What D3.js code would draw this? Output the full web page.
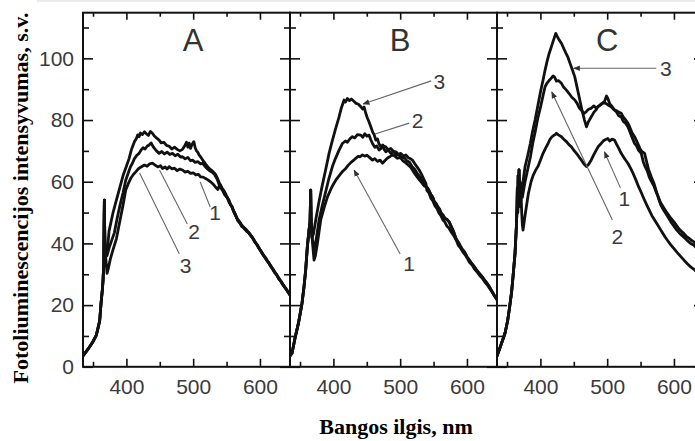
<!DOCTYPE html>
<html><head><meta charset="utf-8">
<script src="https://cdn.jsdelivr.net/npm/d3@7"></script>
<style>body{margin:0;background:#fff;} svg{display:block;}</style>
</head><body>
<svg id="chart" width="695" height="441"></svg>
<script>
// ---------- data ----------
const panelNames = ["A", "B", "C"];
const wavelengthDomain = [335, 645];
const intensityDomain = [0, 114.8];
const xMajorTicks = [400, 500, 600];
const xMinorTicks = [350, 450, 550];
const yMajorTicks = [0, 20, 40, 60, 80, 100];
const yMinorTicks = [10, 30, 50, 70, 90, 110];
const xTitle = "Bangos ilgis, nm";
const yTitle = "Fotoliuminescencijos intensyvumas, s.v.";

// Panel A
const startA = [[335,3.5],[340,5],[345,6.5],[350,8.2],[355,10.3],[358,13],[360,15],[362,20.6],[364,25],[365,28],[366,33],[366.5,45],[367,54],[367.5,44],[368,38]];
const bodyA3 = [[370,37],[372,39],[374,44],[377,47],[380,50],[385,54],[390,58],[395,62],[400,65],[404,67.5],[407,70],[409,71.3],[412,73],[415,74],[417,75.2],[419,74.6],[421,75.8],[424,75.3],[427,76.2],[430,75.5],[433,75],[436,76.3],[439,75.7],[442,74.8],[445,74.2],[449,73.5],[452,72.6],[456,72.8],[460,71.8],[464,71.5],[468,70.6],[472,71.2],[476,70.5],[480,70],[484,70.5],[487,71.5],[490,72.8],[492,71.2],[494,72.5],[496,70.8],[498,72],[501,73],[503,71],[505,70],[507,69.5],[509,68.6],[512,67.8],[516,66.5],[519,65.6],[523,64.5],[527,63.8],[530,63.2],[533,62.5],[536,61.3]];
const bodyA2 = [[371,36],[374,38.5],[378,41],[382,43.5],[386,48],[390,52],[395,56.5],[399,60.5],[403,63],[406,64.8],[409,66],[412,67.5],[415,68.4],[419,69.2],[422,70.3],[425,71],[428,70.6],[431,71.5],[434,71.9],[437,72.6],[440,71.4],[442,70.8],[445,70],[449,69.2],[453,69.8],[457,69],[461,69.6],[465,68.8],[469,69.2],[473,68.4],[477,68.9],[481,68],[484,68.1],[488,67.4],[492,67.9],[496,66.8],[499,67],[503,66.3],[507,66.5],[511,65.8],[514,66],[518,64.9],[521,64.2],[525,63.5],[528,63.2],[532,62.3],[536,60.8]];
const bodyA1 = [[370,33],[371,30.3],[373,32],[376,35],[380,38],[385,41.5],[390,47],[395,52.5],[399,57.3],[403,59.5],[407,61.3],[411,62.5],[414,63.2],[418,64.2],[422,64.8],[427,65.4],[431,65],[435,65.8],[439,66],[443,65.4],[447,64.8],[451,65.2],[454,64.3],[458,64.8],[461,64.1],[464,64.9],[468,64.2],[472,64.4],[476,63.6],[480,64.1],[484,63.8],[488,63.1],[492,63.4],[496,62.7],[500,62.9],[504,62.2],[508,62.4],[511,61.6],[515,61.5],[518,61.1],[522,60.6],[526,60],[530,59.2],[533,58.4],[537,57.5]];
const tailA = [[540,59.2],[543,58],[546,57],[550,55.3],[553,54.2],[556,52.5],[558,52],[561,50.2],[564,48.8],[567,47.4],[570,46.6],[573,45.5],[576,45],[580,44],[583,43.5],[586,42.6],[589,41.8],[592,40.6],[595,39.8],[598,38.6],[601,37.6],[604,36.5],[607,35.6],[610,34.6],[613,33.8],[616,32.6],[619,31.7],[622,30.6],[625,29.8],[628,28.6],[631,27.8],[634,26.7],[637,25.8],[640,24.9],[643,23.9],[645,23.2]];
const tailA2 = [[540,58.4],[544,57.2],[547,55.8],[551,54.8],[554,53.2],[557,52.3],[560,50.8],[563,49.6],[566,48],[569,47.2],[572,46.2],[575,45.4],[579,44.6],[582,43.8],[585,43],[588,42.1],[591,41.2],[594,40],[597,39.2],[600,38],[603,37.1],[606,36],[609,35.2],[612,34],[615,33.2],[618,32.2],[621,31.2],[624,30.2],[627,29.2],[630,28.2],[633,27.3],[636,26.2],[639,25.4],[642,24.3],[645,23.6]];

// Panel B
const startB = [[335,3.5],[338,4.4],[343,9.8],[348,14.5],[353,20.6],[356,26],[358.5,31.4],[361,39],[363.5,44.3],[365,47],[365.5,52],[366,57.3],[366.5,50],[367,45],[368,42]];
const bodyB3 = [[370,43],[373.5,47.6],[378,53],[383,58.5],[388,63.5],[393.5,69.2],[398,73],[403,77],[408.5,81],[412,84],[416,86.5],[418,85.8],[421,87],[424,86.3],[427,86.8],[431,86],[434,85.4],[437,85.2],[441,84.3],[444,83.6],[446,84.2],[448.5,82.2],[451,80.6],[453,79.6],[456,77.8],[459,76],[461,75.3],[463.5,73.5],[466,73.9],[468,72.4],[471,71.3],[474,71.9],[476,70.5],[478.5,69.7],[482,70.3],[486,69.2],[490,69.8],[494,68.6],[498,68.8],[502,67.7],[506,67.9],[510,66.8],[514,66.3],[518,64.9],[522,64],[526,62.5],[530,61.5],[534,60.2],[537,59]];
const bodyB2 = [[371,38],[374,41],[378.5,47.6],[383,52],[388,56.4],[393,60.8],[398.5,64.9],[403,67.5],[408,70],[413.5,72.4],[418,73.2],[421,72.8],[425,74],[428.5,74.6],[432,74.2],[436,75.3],[441,75.1],[444,74.4],[447,75.6],[450,74.8],[453.5,75.1],[456,73.6],[458.5,72.4],[462,71.2],[465,71.6],[468.5,70.3],[472,70.9],[475,71.6],[478.5,71.3],[482,70.4],[486,70.8],[490,69.8],[493.5,69.7],[497,68.9],[501,69.2],[505,68.3],[508.5,68.7],[512,67.8],[515,67.5],[518.5,67],[522,65.8],[525,64.9],[528.5,63.8],[532,62.4],[535,61],[538.5,59.5]];
const bodyB1 = [[370,37],[371,34.6],[373,36],[376,40],[381,47.6],[386,51.5],[391,55],[396,57.5],[400,59.2],[403.5,60.5],[407,61.5],[411,62.6],[414,63.4],[418.5,64.3],[422,65.3],[426,66.2],[430,66.9],[433.5,67.6],[437,68.2],[440,68.1],[443.5,68.7],[447,68.3],[450,68.6],[454,67.9],[458.5,67],[462,67.5],[466,66.6],[470,67],[473.5,66],[477,66.8],[481,67.7],[485,68.2],[488.5,68.7],[492,68.3],[496,67.6],[500,67.9],[504,66.8],[508,66.2],[512,65.4],[516,64.6],[520,63.2],[524,62],[528,60.8],[532,59.8],[536,58.6]];
const tailB = [[540,58.2],[543,57.2],[546,55.8],[548.5,55.1],[551,53.6],[554,52.8],[556,51.9],[558.5,51.3],[561,50],[564,49.2],[567,48.1],[570,47.8],[573.5,46.9],[577,45.2],[580,43.8],[583.5,41.6],[587,40.4],[590,39.2],[593,38.1],[596,37.3],[600,35.7],[603.5,34.6],[607,33.5],[610,32.7],[614,31.5],[618.5,30.3],[622,29.4],[626,28.2],[630,27.1],[633.5,26],[637,24.6],[641,23.1],[645,21.7]];
const tailB2 = [[540,57.2],[543,56.4],[546,54.6],[549,53.8],[552,52.2],[555,51.4],[558,49.9],[561,49],[564,47.6],[567,46.9],[570,45.6],[573,45],[576,43.8],[580,42.6],[584,41],[587,39.4],[590,38.6],[594,37.2],[597,36.4],[601,35],[604,33.8],[608,32.9],[611,31.8],[615,30.8],[619,29.6],[623,28.7],[627,27.4],[631,26.4],[635,25.1],[639,23.8],[642,22.8],[645,21.9]];

// Panel C
const startC = [[335,3.5],[340,6.5],[347,10.9],[351,15],[354,19.5],[357,24.5],[359,29.2],[362,36.8],[364,45.4],[365,52],[365.5,58],[366,50],[366.7,62],[367.3,54],[368,63.8],[368.7,55],[369.3,60],[370,52],[371,56]];
const bodyC3 = [[374,60],[377,64.9],[381,68.5],[385,72.5],[388,76],[392,80],[396,84.5],[400,89],[404,93],[407,96.2],[410,99],[413,101.5],[416.5,103.8],[419,105.5],[421,106.8],[423,108.1],[425,107.2],[428,106],[431.5,104.9],[435,103.2],[438,101.8],[441,100.5],[444,98.6],[448,96.2],[451.5,94],[455,90.5],[459,86.5],[462,83.5],[466,80],[469,77.8],[472,79.5],[476,81],[480,82.5],[483,83.2],[486,84.3],[490,84.9],[493,85.5],[496,86],[499,87.8],[501,87],[504,85.2],[507,84.5],[511,83.2],[514,82.6],[517,81.5],[521,81],[524,79.6],[527,79.1],[531,77.8],[534,76.2],[537,74.5],[541,72.4],[544,71.6],[547,70.2],[551,69.2],[554,66.5],[557,64.8],[560,63.5],[563,61.5],[566,60.2],[570,58.6],[573,56.8],[576,55.4],[580,53.2],[584,51.8],[588,50.4],[592,49.2],[596,48],[600,47],[604,45.8],[608,44.6],[612,43.8],[615,43.2],[619,42.2],[623,41.6],[627,40.9],[630,40.5],[635,39.2],[640,38],[645,37]];
const bodyC2 = [[373,55],[377,60],[381,64],[385,68],[389,73],[392,76],[396,80.5],[400,84],[404,88],[407,90.8],[410,92],[413,92.8],[416,93.5],[419,94.3],[421,94],[424,92.6],[427,92.8],[431.5,91.9],[435,90.6],[439,89.7],[443,88.6],[447,87.4],[451.5,86.5],[455,85.4],[458,84],[461.5,83.2],[464,82.4],[466,82.2],[469,82.8],[472,83.5],[476,83.8],[480,84.6],[483,84],[486,84.3],[490,85],[494,85.6],[498,85.4],[502,84.8],[506,84.3],[510,83.4],[514,83],[517,82.6],[521,82.2],[524,81],[527,80.2],[531,79],[534,77.6],[537,76],[541,74.6],[545,72.8],[549,70.8],[552,69.8],[556,69.2],[559,66.5],[562,64],[566,61.6],[570,59.5],[574,56.6],[577,54.5],[580,52.6],[584,51],[588,49.6],[592,48.2],[596,46.8],[600,45.6],[604,44.4],[608,43.4],[612,42.6],[616,41.8],[620,40.9],[625,40],[630,39.4],[635,38.2],[640,37],[645,36]];
const bodyC1 = [[372,50],[373,46],[374,44.3],[376,47.5],[378,50.5],[382,56.2],[386,60],[389,62],[393,63.8],[396.5,65],[400,67],[404,69.2],[408,71],[411.5,72.4],[414,73.6],[417,74.5],[420,75],[422,75.3],[424,75.7],[427,75.2],[431.5,74.6],[435,73.8],[439,73],[443,72],[446.5,71.3],[450,70.2],[454,69.2],[458,68],[461.5,67],[465,65.8],[469,64.9],[472,65.6],[476,67],[480,68.8],[484,70.4],[487,71.5],[491,72.4],[494,73.2],[497,73.6],[501,74],[504,73.2],[507,73.8],[511,73.5],[514,72.2],[517,71],[521,69.2],[524,68.2],[527,67.2],[531,66],[535,64.4],[539,62.6],[543,60.6],[547,58.4],[551,56.5],[555,54.5],[559,52.6],[563,50.8],[567,49],[571,47.6],[575,46.2],[579,44.8],[583,43.4],[587,42],[591,40.8],[595,39.6],[600,38.3],[605,37],[610,35.8],[615,34.6],[620,33.4],[625,32.4],[630,31.6],[635,30.6],[640,29.6],[645,28.6]];

// curve labels: [label, labelWl, labelVal, fromWl, fromVal, toWl, toVal, arrow]
const labelsA = [["1",532.9,49.9,525.5,51.8,510.6,59.9,0],["2",501.2,43.8,491.2,46.3,449.6,63.8,0],["3",488.7,33.0,479.3,36.6,419.8,62.8,0]];
const labelsB = [["3",558.5,92.4,546.5,92.7,444.5,85.2,1],["2",526,80,513.5,79,462.5,75.5,0],["1",513.5,33.6,500,36.6,431,63.8,1]];
const labelsC = [["3",587.9,96.8,573.4,96.8,449.7,96.8,1],["1",525.7,54.7,519.8,58,495.9,69.7,1],["2",515.3,42.2,507.8,47.6,417,89.1,1]];

const panels = [
  {name: panelNames[0], curves: [startA.concat(bodyA3, tailA), startA.concat(bodyA2, tailA2), startA.concat(bodyA1, tailA)], labels: labelsA},
  {name: panelNames[1], curves: [startB.concat(bodyB3, tailB), startB.concat(bodyB2, tailB2), startB.concat(bodyB1, tailB)], labels: labelsB},
  {name: panelNames[2], curves: [startC.concat(bodyC3), startC.concat(bodyC2), startC.concat(bodyC1)], labels: labelsC}
];

// ---------- layout ----------
const svg = d3.select("#chart");
const W = 695, H = 441;
const plotTop = 12.7, plotBottom = 366.8, panelW = 207;
const panelLefts = [83, 290, 497];
const x = d3.scaleLinear().domain(wavelengthDomain).range([0, panelW]);
const y = d3.scaleLinear().domain(intensityDomain).range([plotBottom, plotTop]);
const tickColor = "#3a3a3a";
const sans = "'Liberation Sans', Arial, sans-serif";
const serif = "'Liberation Serif', 'Times New Roman', serif";

svg.append("rect").attr("width", W).attr("height", H).attr("fill", "#fff");
svg.append("line").attr("x1", 37).attr("x2", W).attr("y1", 1).attr("y2", 1).attr("stroke", "#d6d6d6").attr("stroke-width", 1.2);

const defs = svg.append("defs");
defs.append("marker").attr("id", "arr").attr("viewBox", "0 0 10 10").attr("refX", 9).attr("refY", 5)
  .attr("markerWidth", 7).attr("markerHeight", 7).attr("markerUnits", "userSpaceOnUse").attr("orient", "auto")
  .append("path").attr("d", "M0,1 L10,5 L0,9 Z").attr("fill", "#333");
defs.append("clipPath").attr("id", "pclip").append("rect").attr("x", 0).attr("y", plotTop).attr("width", panelW).attr("height", plotBottom - plotTop);

const line = d3.line().x(d => x(d[0])).y(d => y(d[1]));

panels.forEach((p, i) => {
  const g = svg.append("g").attr("transform", `translate(${panelLefts[i]},0)`);
  const cg = g.append("g").attr("clip-path", "url(#pclip)");
  p.curves.forEach(c => {
    cg.append("path").datum(c).attr("d", line).attr("fill", "none").attr("stroke", "#111")
      .attr("stroke-width", 2.8).attr("stroke-linejoin", "round").attr("stroke-linecap", "round");
  });
  p.labels.forEach(l => {
    g.append("line").attr("x1", x(l[3])).attr("y1", y(l[4])).attr("x2", x(l[5])).attr("y2", y(l[6]))
      .attr("stroke", "#666").attr("stroke-width", 1.1)
      .attr("marker-end", l[7] ? "url(#arr)" : null);
    g.append("text").attr("x", x(l[1])).attr("y", y(l[2])).attr("dy", "0.36em").attr("text-anchor", "middle")
      .attr("font-family", sans).attr("font-size", 21).attr("fill", tickColor).text(l[0]);
  });
  g.append("text").attr("x", x(500)).attr("y", y(102.5)).attr("text-anchor", "middle")
    .attr("font-family", sans).attr("font-size", 31).attr("fill", "#333").text(p.name);

  const styleAxis = (sel) => {
    sel.select(".domain").remove();
    sel.selectAll(".tick line").attr("stroke", "#111").attr("stroke-width", 1.6);
    sel.selectAll(".tick text").attr("font-family", sans).attr("font-size", 21).attr("fill", tickColor);
  };
  g.append("g").attr("transform", `translate(0,${plotBottom})`)
    .call(d3.axisBottom(x).tickValues(xMajorTicks).tickSize(-8).tickPadding(12).tickFormat(d3.format("d"))).call(styleAxis);
  g.append("g").attr("transform", `translate(0,${plotBottom})`)
    .call(d3.axisBottom(x).tickValues(xMinorTicks).tickSize(-5).tickFormat("")).call(styleAxis);
  g.append("g").attr("transform", `translate(0,${plotTop})`)
    .call(d3.axisTop(x).tickValues(xMajorTicks).tickSize(-7).tickFormat("")).call(styleAxis);
  g.append("g").attr("transform", `translate(0,${plotTop})`)
    .call(d3.axisTop(x).tickValues(xMinorTicks).tickSize(-4).tickFormat("")).call(styleAxis);
  g.append("g")
    .call(d3.axisLeft(y).tickValues(yMajorTicks).tickSize(-10).tickPadding(9).tickFormat(i === 0 ? d3.format("d") : "")).call(styleAxis);
  g.append("g")
    .call(d3.axisLeft(y).tickValues(yMinorTicks).tickSize(-6).tickFormat("")).call(styleAxis);
  g.append("g").attr("transform", `translate(${panelW},0)`)
    .call(d3.axisRight(y).tickValues(yMajorTicks).tickSize(-10).tickFormat("")).call(styleAxis);
  g.append("g").attr("transform", `translate(${panelW},0)`)
    .call(d3.axisRight(y).tickValues(yMinorTicks).tickSize(-6).tickFormat("")).call(styleAxis);
  g.append("rect").attr("x", 0).attr("y", plotTop).attr("width", panelW).attr("height", plotBottom - plotTop)
    .attr("fill", "none").attr("stroke", "#111").attr("stroke-width", 2);
});

svg.append("text").attr("x", 396).attr("y", 434).attr("text-anchor", "middle")
  .attr("font-family", serif).attr("font-weight", "bold").attr("font-size", 22).attr("fill", "#000").text(xTitle);
svg.append("text").attr("transform", "translate(28,198) rotate(-90)").attr("text-anchor", "middle")
  .attr("font-family", serif).attr("font-weight", "bold").attr("font-size", 22).attr("fill", "#000").text(yTitle);
</script>
</body></html>
